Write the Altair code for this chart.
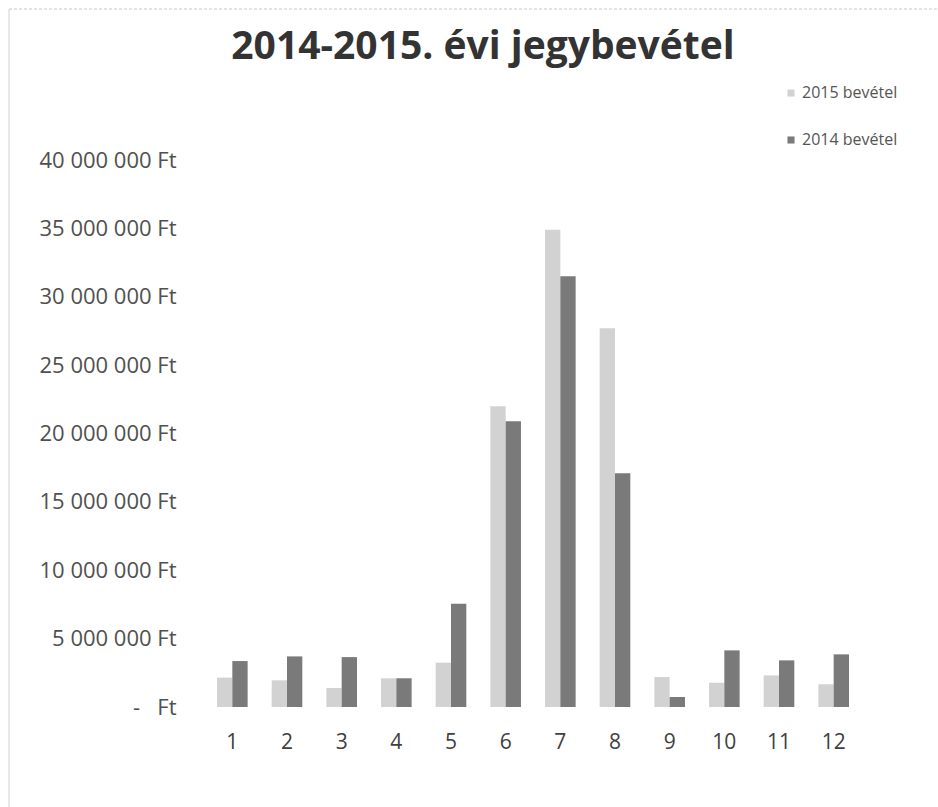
import altair as alt
import pandas as pd

months = [str(m) for m in range(1, 13)]
bevetel_2015 = [2150000, 1950000, 1390000, 2100000, 3240000, 22000000,
                34900000, 27700000, 2190000, 1780000, 2310000, 1660000]
bevetel_2014 = [3360000, 3700000, 3650000, 2100000, 7550000, 20900000,
                31500000, 17100000, 730000, 4140000, 3410000, 3850000]
series = ["2015 bevétel", "2014 bevétel"]
colors = ["#d2d2d2", "#7a7a7a"]
y_ticks = [0, 5000000, 10000000, 15000000, 20000000, 25000000,
           30000000, 35000000, 40000000]
title_text = "2014-2015. évi jegybevétel"

rows = []
for i, m in enumerate(months):
    rows.append({"honap": m, "sorozat": series[0], "ertek": bevetel_2015[i]})
    rows.append({"honap": m, "sorozat": series[1], "ertek": bevetel_2014[i]})
df = pd.DataFrame(rows)

font = "Open Sans"

bars = alt.Chart(df).mark_bar().encode(
    x=alt.X("honap:O", sort=months,
            scale=alt.Scale(paddingInner=0.44, paddingOuter=0.22),
            axis=alt.Axis(title=None, labelAngle=0, labelFontSize=21,
                          labelColor="#404040", labelFont=font,
                          ticks=False, tickSize=0, domain=False,
                          labelPadding=24)),
    xOffset=alt.XOffset("sorozat:N", sort=series),
    y=alt.Y("ertek:Q",
            scale=alt.Scale(domain=[0, 40000000], nice=False),
            axis=alt.Axis(title=None, values=y_ticks, grid=False,
                          ticks=False, domain=False, labelFontSize=22,
                          labelColor="#505050", labelFont=font,
                          labelPadding=29,
                          labelExpr="datum.value == 0 ? '-\u00a0\u00a0\u00a0Ft' : format(datum.value / 1000000, 'd') + ' 000 000 Ft'")),
    color=alt.Color("sorozat:N", sort=series,
                    scale=alt.Scale(domain=series, range=colors),
                    legend=alt.Legend(title=None, orient="none",
                                      legendX=578, legendY=-75,
                                      symbolType="square", symbolSize=50,
                                      symbolStrokeWidth=0,
                                      labelFontSize=16, labelColor="#555555",
                                      labelFont=font, rowPadding=31,
                                      labelOffset=3)),
)

title_df = pd.DataFrame({"t": [title_text]})
title = alt.Chart(title_df).mark_text(
    font=font, fontSize=39, fontWeight="bold", color="#333333",
    align="center", baseline="alphabetic"
).encode(text="t:N", x=alt.value(278), y=alt.value(-101))

frame = pd.DataFrame({"k": ["top", "left"]})
top_line = alt.Chart(frame).transform_filter("datum.k == 'top'").mark_rule(
    color="#c8c8c8", strokeWidth=1, strokeDash=[3, 2]
).encode(x=alt.value(-196), x2=alt.value(733), y=alt.value(-151))
left_line = alt.Chart(frame).transform_filter("datum.k == 'left'").mark_rule(
    color="#d0d0d0", strokeWidth=1
).encode(x=alt.value(-196), y=alt.value(-151), y2=alt.value(647))

chart = alt.layer(bars, title, top_line, left_line).properties(
    width=656,
    height=547,
    autosize=alt.AutoSizeParams(type="none"),
    padding={"left": 205, "top": 160, "right": 77, "bottom": 100},
    background="white",
).configure_view(stroke=None)

chart.save("out.html", embed_options={"renderer": "svg", "actions": False})
